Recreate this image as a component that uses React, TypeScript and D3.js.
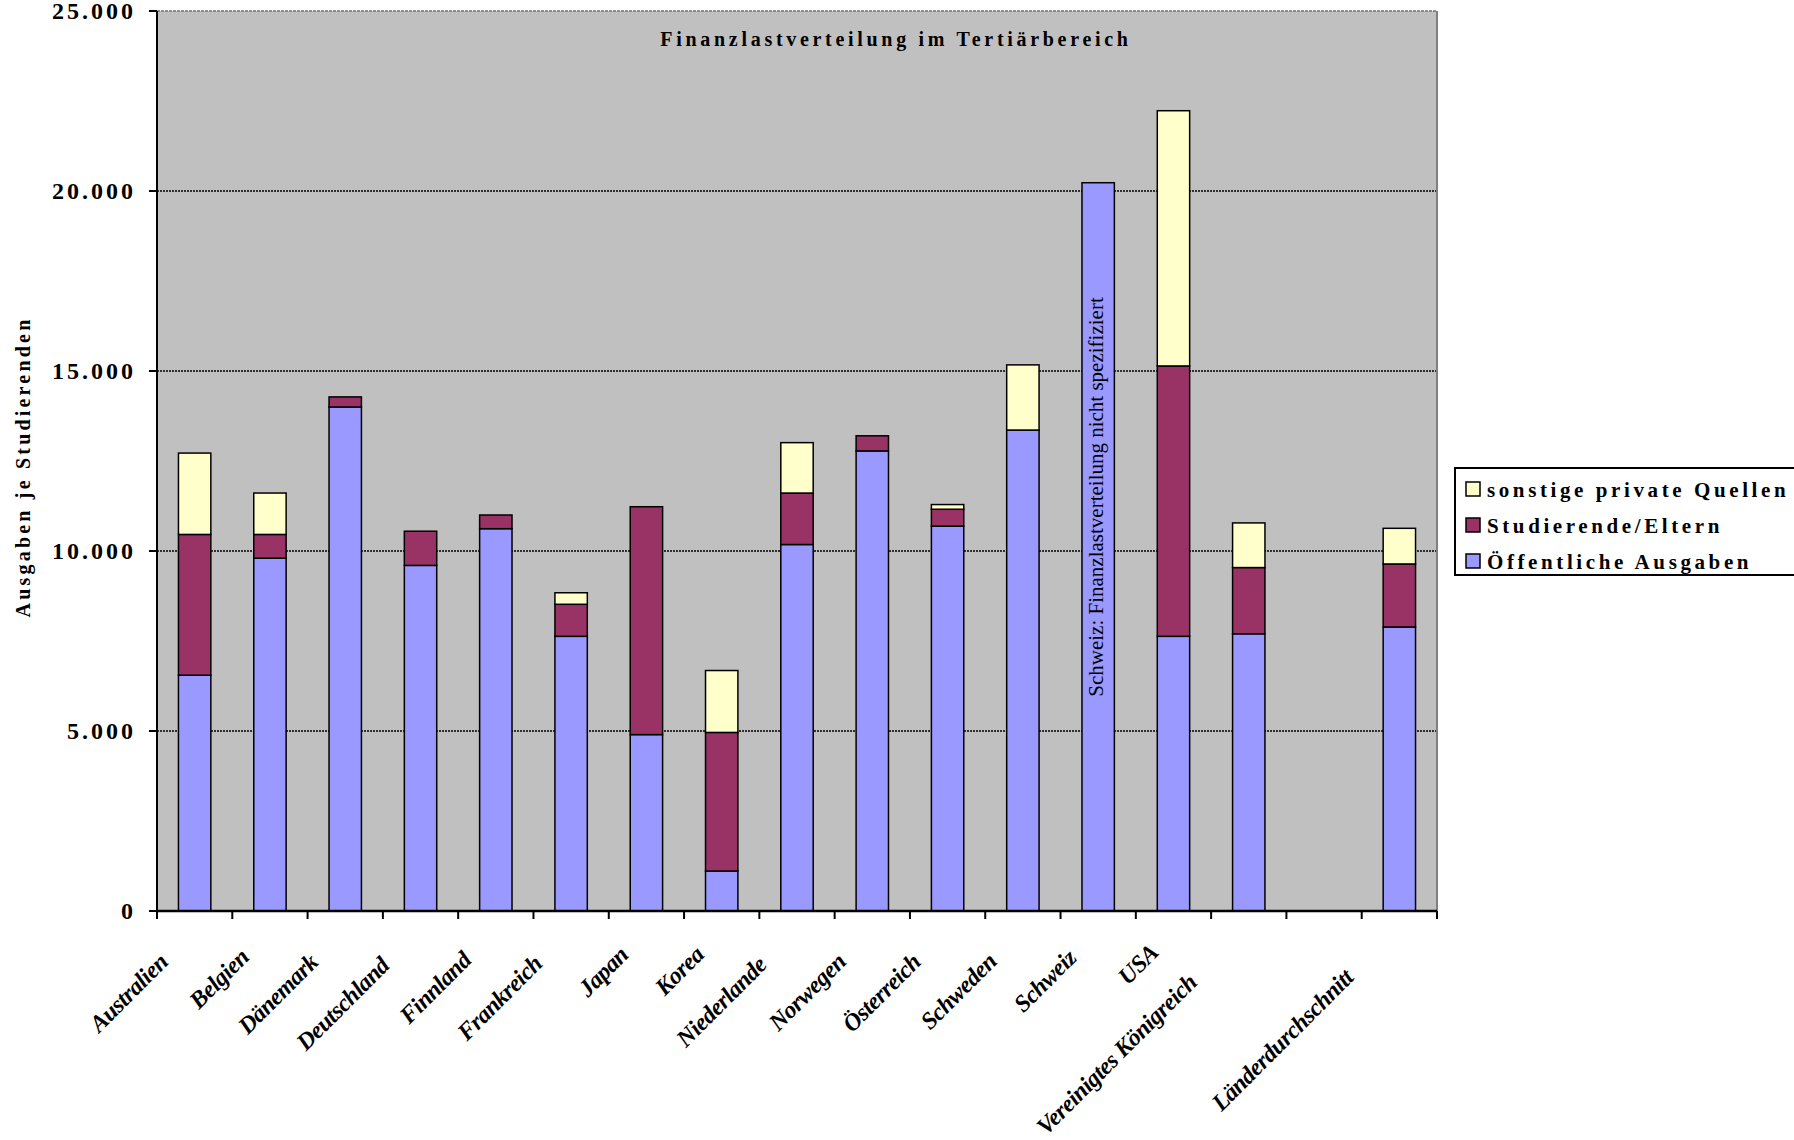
import React, { useRef, useEffect } from 'react';
import * as d3 from 'd3';

// Länder (leerer Slot zwischen Vereinigtes Königreich und Länderdurchschnitt)
const categories = [
  'Australien', 'Belgien', 'Dänemark', 'Deutschland', 'Finnland', 'Frankreich',
  'Japan', 'Korea', 'Niederlande', 'Norwegen', 'Österreich', 'Schweden',
  'Schweiz', 'USA', 'Vereinigtes Königreich', '', 'Länderdurchschnitt',
];
const oeffentlich = [6550, 9800, 14000, 9600, 10620, 7630, 4900, 1110, 10180, 12780, 10690, 13360, 20230, 7630, 7700, 0, 7890];
const studierende = [3910, 660, 280, 950, 380, 890, 6330, 3850, 1430, 420, 470, 0, 0, 7510, 1840, 0, 1750];
const sonstige = [2260, 1150, 0, 0, 0, 320, 0, 1720, 1400, 0, 130, 1810, 0, 7090, 1240, 0, 990];

const seriesKeys = ['oeffentlich', 'studierende', 'sonstige'];
const seriesLabels = ['Öffentliche Ausgaben', 'Studierende/Eltern', 'sonstige private Quellen'];
const seriesColors = ['#9999FF', '#993366', '#FFFFCC'];
const yTicks = [0, 5000, 10000, 15000, 20000, 25000];

const W = 1794;
const H = 1140;

const App: React.FC = () => {
  const ref = useRef<SVGSVGElement | null>(null);

  useEffect(() => {
    if (!ref.current) return;
    const svg = d3.select(ref.current);
    svg.selectAll('*').remove();

    const left = 157, right = 1437, top = 11, bottom = 911;
    const serif = '"Liberation Serif", "Times New Roman", serif';

    const x = d3.scaleBand<number>()
      .domain(categories.map((_, i) => i))
      .range([left, right])
      .padding(0);
    const y = d3.scaleLinear().domain([0, 25000]).range([bottom, top]);

    const de = d3.formatLocale({ decimal: ',', thousands: '.', grouping: [3], currency: ['', '€'] });
    const fmt = de.format(',d');

    // plot background
    svg.append('rect')
      .attr('x', left).attr('y', top)
      .attr('width', right - left).attr('height', bottom - top)
      .attr('fill', '#C0C0C0');

    // gridlines
    svg.append('g').selectAll('line')
      .data(yTicks.filter(t => t > 0 && t < 25000))
      .enter().append('line')
      .attr('x1', left).attr('x2', right)
      .attr('y1', d => y(d)).attr('y2', d => y(d))
      .attr('stroke', '#000').attr('stroke-width', 1.5)
      .attr('stroke-dasharray', '2,1');

    // top and right border
    svg.append('line')
      .attr('x1', left).attr('x2', right).attr('y1', y(25000)).attr('y2', y(25000))
      .attr('stroke', '#707070').attr('stroke-width', 1.5).attr('stroke-dasharray', '3,1');
    svg.append('line')
      .attr('x1', right).attr('x2', right).attr('y1', top).attr('y2', bottom)
      .attr('stroke', '#808080').attr('stroke-width', 2);

    // stacked bars
    const rows = categories.map((c, i) => ({
      oeffentlich: oeffentlich[i], studierende: studierende[i], sonstige: sonstige[i], idx: i,
    }));
    const stack = d3.stack<any>().keys(seriesKeys);
    const stacked = stack(rows);
    const bw = x.bandwidth() * 0.43;

    stacked.forEach((layer, si) => {
      svg.append('g').selectAll('rect')
        .data(layer.filter(d => d[1] - d[0] > 0))
        .enter().append('rect')
        .attr('x', d => (x(d.data.idx) as number) + x.bandwidth() / 2 - bw / 2)
        .attr('y', d => y(d[1]))
        .attr('width', bw)
        .attr('height', d => y(d[0]) - y(d[1]))
        .attr('fill', seriesColors[si])
        .attr('stroke', '#000')
        .attr('stroke-width', 1.5);
    });

    // Schweiz annotation
    const chIdx = categories.indexOf('Schweiz');
    svg.append('text')
      .attr('transform', `translate(${(x(chIdx) as number) + x.bandwidth() / 2 + 5}, 497) rotate(-90)`)
      .attr('text-anchor', 'middle')
      .attr('font-family', serif)
      .attr('font-size', 21)
      .attr('fill', '#000')
      .text('Schweiz: Finanzlastverteilung nicht spezifiziert');

    // y axis
    svg.append('line')
      .attr('x1', left).attr('x2', left).attr('y1', top).attr('y2', bottom)
      .attr('stroke', '#000').attr('stroke-width', 2);
    const yAxis = svg.append('g');
    yAxis.selectAll('line')
      .data(yTicks).enter().append('line')
      .attr('x1', left - 8).attr('x2', left)
      .attr('y1', d => y(d)).attr('y2', d => y(d))
      .attr('stroke', '#000').attr('stroke-width', 2);
    yAxis.selectAll('text')
      .data(yTicks).enter().append('text')
      .attr('x', 136)
      .attr('y', d => y(d) + 8)
      .attr('text-anchor', 'end')
      .attr('font-family', serif)
      .attr('font-weight', 'bold')
      .attr('font-size', 24)
      .attr('letter-spacing', 3)
      .text(d => fmt(d));

    svg.append('text')
      .attr('transform', `translate(30, 467) rotate(-90)`)
      .attr('text-anchor', 'middle')
      .attr('font-family', serif)
      .attr('font-weight', 'bold')
      .attr('font-size', 20)
      .attr('letter-spacing', 3.2)
      .text('Ausgaben je Studierenden');

    // x axis
    svg.append('line')
      .attr('x1', left).attr('x2', right).attr('y1', bottom).attr('y2', bottom)
      .attr('stroke', '#000').attr('stroke-width', 2.5);
    const bounds = categories.map((_, i) => x(i) as number).concat([right]);
    svg.append('g').selectAll('line')
      .data(bounds).enter().append('line')
      .attr('x1', d => d).attr('x2', d => d)
      .attr('y1', bottom).attr('y2', bottom + 8)
      .attr('stroke', '#000').attr('stroke-width', 2);

    // rotated category labels: longer labels sit further down-left, as in the original
    svg.append('g').selectAll('text')
      .data(categories.map((c, i) => ({ c, i })).filter(d => d.c !== ''))
      .enter().append('text')
      .attr('text-anchor', 'end')
      .attr('font-family', serif)
      .attr('font-weight', 'bold')
      .attr('font-style', 'italic')
      .attr('font-size', 24)
      .attr('letter-spacing', -0.5)
      .text(d => d.c)
      .each(function (d) {
        const len = (this as SVGTextElement).getComputedTextLength();
        const cx = (x(d.i) as number) + x.bandwidth() / 2;
        const ex = cx - 4 - 0.216 * len;
        const ey = bottom + 35 + 0.176 * len;
        d3.select(this).attr('transform', `translate(${ex}, ${ey}) rotate(-45)`);
      });

    // title
    svg.append('text')
      .attr('x', 896).attr('y', 46)
      .attr('text-anchor', 'middle')
      .attr('font-family', serif)
      .attr('font-weight', 'bold')
      .attr('font-size', 20)
      .attr('letter-spacing', 3.7)
      .text('Finanzlastverteilung im Tertiärbereich');

    // legend
    const lg = svg.append('g');
    lg.append('rect')
      .attr('x', 1455).attr('y', 468)
      .attr('width', 345).attr('height', 107)
      .attr('fill', '#fff').attr('stroke', '#000').attr('stroke-width', 2);
    const legendOrder = [2, 1, 0];
    legendOrder.forEach((si, k) => {
      const cy = 489 + k * 36;
      lg.append('rect')
        .attr('x', 1466).attr('y', cy - 7)
        .attr('width', 14).attr('height', 14)
        .attr('fill', seriesColors[si]).attr('stroke', '#000').attr('stroke-width', 1.5);
      lg.append('text')
        .attr('x', 1487).attr('y', cy + 8)
        .attr('font-family', serif)
        .attr('font-weight', 'bold')
        .attr('font-size', 21)
        .attr('letter-spacing', 3.6)
        .text(seriesLabels[si]);
    });
  }, []);

  return (
    <svg
      ref={ref}
      width={W}
      height={H}
      style={{ position: 'absolute', left: 0, top: 0, background: '#fff' }}
    />
  );
};

export default App;
